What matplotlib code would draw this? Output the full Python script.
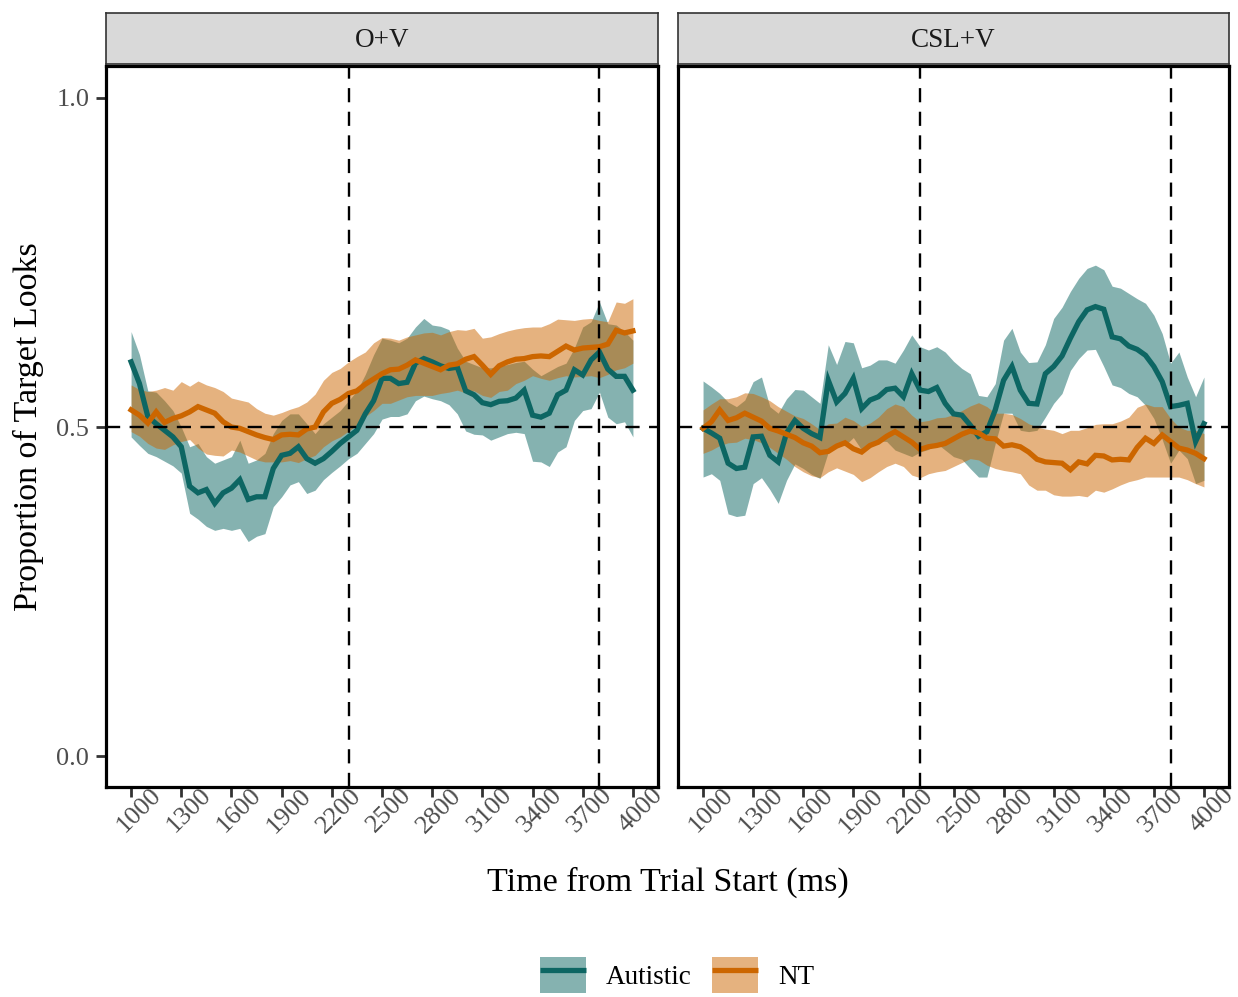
import numpy as np
import matplotlib
matplotlib.use("Agg")
import matplotlib.pyplot as plt
from matplotlib.patches import Patch
from matplotlib.lines import Line2D
from matplotlib.transforms import ScaledTranslation
from matplotlib.legend_handler import HandlerTuple

plt.rcParams['font.family'] = ['Liberation Serif', 'DejaVu Serif']

# ---------------- data ----------------
time_ms = list(range(1000, 4001, 50))
panels = ["O+V", "CSL+V"]
groups = ["Autistic", "NT"]
x_breaks = list(range(1000, 4001, 300))
y_breaks = [0.0, 0.5, 1.0]
y_labels = ["0.0", "0.5", "1.0"]
vlines_ms = [2300, 3800]
chance = 0.5

aut_ov_mean = [0.599, 0.566, 0.516, 0.505, 0.495, 0.485, 0.470, 0.410, 0.400, 0.405,
               0.384, 0.400, 0.407, 0.420, 0.390, 0.394, 0.394, 0.437, 0.457, 0.460,
               0.470, 0.452, 0.445, 0.452, 0.463, 0.475, 0.485, 0.495, 0.520, 0.540,
               0.574, 0.574, 0.566, 0.568, 0.597, 0.604, 0.599, 0.593, 0.589, 0.591,
               0.555, 0.549, 0.537, 0.534, 0.539, 0.540, 0.544, 0.556, 0.518, 0.515,
               0.521, 0.549, 0.556, 0.587, 0.579, 0.602, 0.614, 0.588, 0.577, 0.577,
               0.556]
aut_ov_lo = [0.485, 0.472, 0.460, 0.455, 0.448, 0.441, 0.430, 0.369, 0.360, 0.349,
             0.343, 0.346, 0.343, 0.346, 0.326, 0.334, 0.338, 0.379, 0.394, 0.412,
             0.417, 0.399, 0.404, 0.420, 0.431, 0.441, 0.452, 0.460, 0.475, 0.490,
             0.512, 0.516, 0.516, 0.520, 0.540, 0.547, 0.543, 0.540, 0.534, 0.520,
             0.494, 0.489, 0.488, 0.480, 0.485, 0.490, 0.492, 0.490, 0.448, 0.447,
             0.440, 0.462, 0.470, 0.510, 0.525, 0.528, 0.553, 0.515, 0.505, 0.508,
             0.485]
aut_ov_hi = [0.645, 0.610, 0.555, 0.553, 0.540, 0.525, 0.500, 0.470, 0.475, 0.455,
             0.445, 0.450, 0.455, 0.480, 0.445, 0.450, 0.460, 0.490, 0.510, 0.520,
             0.520, 0.505, 0.490, 0.505, 0.515, 0.525, 0.540, 0.555, 0.580, 0.610,
             0.635, 0.632, 0.628, 0.635, 0.652, 0.665, 0.655, 0.653, 0.648, 0.620,
             0.600, 0.595, 0.590, 0.590, 0.592, 0.595, 0.598, 0.600, 0.588, 0.578,
             0.585, 0.592, 0.597, 0.620, 0.652, 0.660, 0.690, 0.657, 0.655, 0.645,
             0.632]

nt_ov_mean = [0.526, 0.518, 0.506, 0.523, 0.507, 0.513, 0.517, 0.523, 0.531, 0.526,
              0.521, 0.508, 0.500, 0.498, 0.493, 0.488, 0.484, 0.481, 0.488, 0.489,
              0.488, 0.497, 0.500, 0.523, 0.536, 0.542, 0.551, 0.555, 0.565, 0.573,
              0.581, 0.587, 0.588, 0.594, 0.602, 0.597, 0.592, 0.587, 0.594, 0.596,
              0.603, 0.607, 0.594, 0.580, 0.593, 0.599, 0.603, 0.604, 0.607, 0.608,
              0.607, 0.615, 0.623, 0.617, 0.620, 0.621, 0.622, 0.626, 0.647, 0.643,
              0.646]
nt_ov_lo = [0.493, 0.486, 0.475, 0.468, 0.466, 0.473, 0.478, 0.481, 0.468, 0.459,
            0.457, 0.456, 0.465, 0.462, 0.456, 0.450, 0.447, 0.447, 0.447, 0.449,
            0.446, 0.452, 0.457, 0.470, 0.479, 0.485, 0.494, 0.503, 0.516, 0.525,
            0.536, 0.536, 0.541, 0.546, 0.548, 0.548, 0.548, 0.551, 0.553, 0.556,
            0.552, 0.555, 0.548, 0.545, 0.554, 0.556, 0.566, 0.571, 0.578, 0.574,
            0.571, 0.575, 0.578, 0.576, 0.577, 0.578, 0.575, 0.580, 0.587, 0.590,
            0.597]
nt_ov_hi = [0.564, 0.557, 0.554, 0.556, 0.560, 0.556, 0.569, 0.562, 0.570, 0.564,
            0.560, 0.554, 0.544, 0.541, 0.538, 0.528, 0.521, 0.518, 0.522, 0.527,
            0.531, 0.538, 0.550, 0.571, 0.583, 0.589, 0.599, 0.607, 0.614, 0.628,
            0.636, 0.635, 0.632, 0.637, 0.640, 0.643, 0.644, 0.640, 0.645, 0.648,
            0.647, 0.650, 0.635, 0.637, 0.642, 0.646, 0.649, 0.651, 0.652, 0.652,
            0.657, 0.664, 0.663, 0.662, 0.664, 0.665, 0.662, 0.660, 0.690, 0.688,
            0.695]

aut_csl_mean = [0.498, 0.491, 0.483, 0.445, 0.437, 0.439, 0.485, 0.486, 0.457, 0.447,
                0.491, 0.510, 0.498, 0.490, 0.484, 0.571, 0.538, 0.551, 0.574, 0.528,
                0.541, 0.546, 0.557, 0.559, 0.546, 0.581, 0.556, 0.554, 0.560, 0.536,
                0.520, 0.518, 0.503, 0.486, 0.493, 0.526, 0.571, 0.592, 0.556, 0.536,
                0.535, 0.581, 0.592, 0.608, 0.635, 0.660, 0.678, 0.683, 0.679, 0.637,
                0.634, 0.623, 0.618, 0.609, 0.592, 0.569, 0.531, 0.533, 0.536, 0.478,
                0.505]
aut_csl_lo = [0.424, 0.429, 0.419, 0.368, 0.364, 0.366, 0.414, 0.423, 0.405, 0.384,
              0.419, 0.444, 0.437, 0.428, 0.422, 0.462, 0.472, 0.472, 0.484, 0.465,
              0.469, 0.479, 0.478, 0.465, 0.460, 0.455, 0.462, 0.466, 0.475, 0.465,
              0.455, 0.451, 0.437, 0.424, 0.424, 0.475, 0.521, 0.521, 0.495, 0.493,
              0.495, 0.515, 0.536, 0.551, 0.586, 0.604, 0.617, 0.618, 0.592, 0.564,
              0.560, 0.551, 0.546, 0.533, 0.513, 0.481, 0.445, 0.465, 0.452, 0.414,
              0.419]
aut_csl_hi = [0.570, 0.561, 0.551, 0.538, 0.531, 0.541, 0.569, 0.576, 0.531, 0.521,
              0.543, 0.557, 0.556, 0.546, 0.536, 0.625, 0.595, 0.630, 0.628, 0.590,
              0.594, 0.602, 0.602, 0.597, 0.617, 0.640, 0.622, 0.617, 0.622, 0.614,
              0.600, 0.589, 0.581, 0.548, 0.546, 0.566, 0.632, 0.650, 0.614, 0.598,
              0.599, 0.625, 0.665, 0.682, 0.706, 0.726, 0.741, 0.746, 0.739, 0.714,
              0.711, 0.703, 0.695, 0.688, 0.670, 0.642, 0.597, 0.614, 0.576, 0.546,
              0.576]

nt_csl_mean = [0.498, 0.508, 0.526, 0.510, 0.514, 0.521, 0.515, 0.509, 0.498, 0.494,
               0.489, 0.484, 0.476, 0.471, 0.461, 0.463, 0.471, 0.476, 0.467, 0.462,
               0.472, 0.477, 0.486, 0.493, 0.485, 0.477, 0.466, 0.470, 0.472, 0.475,
               0.482, 0.489, 0.494, 0.491, 0.483, 0.482, 0.471, 0.473, 0.470, 0.462,
               0.451, 0.447, 0.446, 0.445, 0.435, 0.447, 0.444, 0.457, 0.456, 0.450,
               0.451, 0.450, 0.469, 0.483, 0.475, 0.488, 0.478, 0.468, 0.465, 0.460,
               0.452]
nt_csl_lo = [0.460, 0.465, 0.472, 0.476, 0.477, 0.483, 0.481, 0.476, 0.469, 0.460,
             0.451, 0.440, 0.432, 0.426, 0.423, 0.432, 0.438, 0.433, 0.428, 0.417,
             0.423, 0.432, 0.440, 0.445, 0.440, 0.427, 0.423, 0.429, 0.432, 0.434,
             0.440, 0.446, 0.452, 0.450, 0.442, 0.437, 0.434, 0.432, 0.429, 0.412,
             0.404, 0.404, 0.397, 0.395, 0.395, 0.396, 0.394, 0.404, 0.401, 0.406,
             0.412, 0.417, 0.420, 0.424, 0.424, 0.424, 0.424, 0.424, 0.420, 0.414,
             0.409]
nt_csl_hi = [0.526, 0.535, 0.543, 0.543, 0.546, 0.552, 0.551, 0.546, 0.540, 0.531,
             0.524, 0.517, 0.513, 0.505, 0.496, 0.505, 0.506, 0.515, 0.510, 0.501,
             0.506, 0.515, 0.528, 0.535, 0.531, 0.518, 0.508, 0.510, 0.514, 0.515,
             0.519, 0.525, 0.532, 0.537, 0.531, 0.521, 0.521, 0.519, 0.513, 0.505,
             0.500, 0.497, 0.495, 0.490, 0.495, 0.495, 0.499, 0.504, 0.505, 0.505,
             0.509, 0.515, 0.530, 0.535, 0.531, 0.531, 0.513, 0.500, 0.495, 0.495,
             0.490]

series = {
    "O+V": {"Autistic": (aut_ov_mean, aut_ov_lo, aut_ov_hi),
            "NT": (nt_ov_mean, nt_ov_lo, nt_ov_hi)},
    "CSL+V": {"Autistic": (aut_csl_mean, aut_csl_lo, aut_csl_hi),
              "NT": (nt_csl_mean, nt_csl_lo, nt_csl_hi)},
}

line_colors = {"Autistic": "#0d6663", "NT": "#cc6600"}
ribbon_alpha = 0.5

# ---------------- layout ----------------
W, H = 1238, 997
fig = plt.figure(figsize=(W / 100, H / 100), dpi=100)

def fx(px):
    return px / W

def fy(py):
    return 1 - py / H

panel_px = [(106, 658), (678, 1229)]
top_px, bot_px = 66, 787
strip_top, strip_bot = 13, 64

tick_col = "#4d4d4d"
fs_tick = 19

axes = []
for i, (pname, (x0, x1)) in enumerate(zip(panels, panel_px)):
    ax = fig.add_axes([fx(x0), fy(bot_px), fx(x1 - x0), (bot_px - top_px) / H])
    axes.append(ax)
    for g in groups:
        m, lo, hi = series[pname][g]
        ax.fill_between(time_ms, lo, hi, color=line_colors[g], alpha=ribbon_alpha,
                        linewidth=0, zorder=1)
    for g in groups:
        m, lo, hi = series[pname][g]
        ax.plot(time_ms, m, color=line_colors[g], lw=3.8, zorder=3,
                solid_joinstyle="miter")
    ax.axhline(chance, color="black", lw=1.7, dashes=(6.0, 4.0), zorder=4)
    for v in vlines_ms:
        ax.axvline(v, color="black", lw=1.7, dashes=(6.0, 4.0), zorder=4)

    ax.set_xlim(850, 4150)
    ax.set_ylim(-0.047, 1.0486)
    ax.set_xticks(x_breaks)
    ax.set_xticklabels([str(b) for b in x_breaks], fontsize=fs_tick, color=tick_col,
                       rotation=45, rotation_mode="anchor", ha="center", va="center")
    ax.set_yticks(y_breaks)
    if i == 0:
        ax.set_yticklabels(y_labels, fontsize=fs_tick, color=tick_col)
    else:
        ax.set_yticklabels([])
    ax.tick_params(axis="both", direction="out", length=7, width=2.0, color="#333333")
    if i == 1:
        ax.tick_params(axis="y", length=0)
    ax.tick_params(axis="x", pad=10)
    ax.tick_params(axis="y", pad=5)
    for lab in ax.get_xticklabels():
        lab.set_transform(lab.get_transform() +
                          ScaledTranslation(7.5 / 100, 0, fig.dpi_scale_trans))
    for s in ax.spines.values():
        s.set_linewidth(2.3)
        s.set_color("black")
    ax.grid(False)

    # strip
    sax = fig.add_axes([fx(x0), fy(strip_bot), fx(x1 - x0), (strip_bot - strip_top) / H])
    sax.set_facecolor("#d9d9d9")
    sax.set_xticks([])
    sax.set_yticks([])
    for s in sax.spines.values():
        s.set_linewidth(1.2)
        s.set_color("#333333")
    sax.text(0.5, 0.47, pname, ha="center", va="center", fontsize=19.5,
             color="#1a1a1a", transform=sax.transAxes)

fig.text(fx(28), fy(427), "Proportion of Target Looks", rotation=90,
         ha="center", va="center", fontsize=24.5, color="black")
fig.text(fx(667.5), fy(882), "Time from Trial Start (ms)",
         ha="center", va="center", fontsize=24.5, color="black")

handles = []
for g in groups:
    handles.append((Patch(facecolor=line_colors[g], alpha=ribbon_alpha, edgecolor="none"),
                    Line2D([], [], color=line_colors[g], lw=3.8, solid_capstyle="butt")))
fig.legend(handles, groups, loc="center", bbox_to_anchor=(fx(677), fy(975)),
           ncol=2, frameon=False, fontsize=19.5, handlelength=1.7, handleheight=1.7,
           handletextpad=0.75, columnspacing=0.75,
           handler_map={tuple: HandlerTuple(ndivide=1, pad=0)})

fig.savefig("out.png", dpi=100)
